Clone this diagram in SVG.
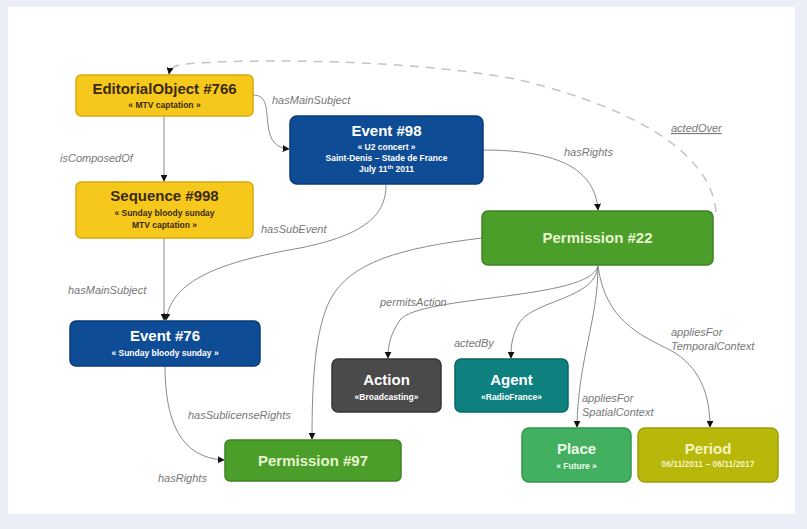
<svg xmlns="http://www.w3.org/2000/svg" width="807" height="529" viewBox="0 0 807 529">
<defs>
<marker id="arr" viewBox="0 0 10 10" refX="9" refY="5" markerWidth="7" markerHeight="7" orient="auto-start-reverse" markerUnits="userSpaceOnUse">
<path d="M0,0 L10,5 L0,10 z" fill="#111"/>
</marker>
<style>
.bg{fill:#eceef7}
.node rect{stroke-width:1.5}
.yel rect{fill:#f7c81c;stroke:#d9a90e}
.blu rect{fill:#0f4c96;stroke:#0a3a78}
.grn rect{fill:#4c9e2a;stroke:#3c8420}
.gry rect{fill:#4a4a4a;stroke:#363636}
.teal rect{fill:#0f8080;stroke:#0a6666}
.plc rect{fill:#42b060;stroke:#33954d}
.olv rect{fill:#b7b80a;stroke:#9c9d05}
text{font-family:"Liberation Sans",Arial,sans-serif;text-anchor:middle}
.t{font-size:15px;font-weight:bold}
.s{font-size:8.5px;font-weight:bold}
.yel text{fill:#3a2a12}
.blu text,.gry text,.teal text{fill:#ffffff}
.grn text{fill:#e6f5cf}
.plc text{fill:#ecfaea}
.olv text{fill:#f7f3c2}
.lab{font-size:11px;font-style:italic;fill:#777777;text-anchor:start}
.c path{fill:none;stroke:#8a8a8a;stroke-width:1}
.c .d{stroke:#c4c4c4;stroke-dasharray:9 7;stroke-width:1.5}
</style>
</defs>
<rect class="bg" x="0" y="0" width="807" height="529"/>
<rect x="8" y="7" width="787" height="507" fill="#ffffff"/>

<g id="connectors" class="c">
<path d="M164,116 L164,181" marker-end="url(#arr)"/>
<path d="M253,95 C268,95 266,110 268,125 C270,140 275,148 289,149" marker-end="url(#arr)"/>
<path d="M164,238 L164,320" marker-end="url(#arr)"/>
<path d="M386,185 C386,215 365,235 300,248 C220,262 172,280 166,320" marker-end="url(#arr)"/>
<path d="M483,150 C560,150 595,170 598,210" marker-end="url(#arr)"/>
<path d="M482,238 C400,248 350,262 330,300 C315,330 312,380 312,439" marker-end="url(#arr)"/>
<path d="M165,366 C165,420 180,458 224,460" marker-end="url(#arr)"/>
<path d="M598,266 C590,300 420,295 400,320 C390,335 388,345 388,358" marker-end="url(#arr)"/>
<path d="M598,266 C596,300 530,300 518,325 C512,337 511,345 511,358" marker-end="url(#arr)"/>
<path d="M598,266 C598,320 578,360 577,427" marker-end="url(#arr)"/>
<path d="M598,266 C605,320 640,335 670,350 C700,366 710,395 710,427" marker-end="url(#arr)"/>
<path class="d" d="M716,212 C712,160 650,112 520,80 C420,60 260,58 185,64 C175,65 170,68 169,74" marker-end="url(#arr)"/>
<text class="lab" x="60" y="162">isComposedOf</text>
<text class="lab" x="272" y="104">hasMainSubject</text>
<text class="lab" x="68" y="294">hasMainSubject</text>
<text class="lab" x="261" y="233">hasSubEvent</text>
<text class="lab" x="564" y="156">hasRights</text>
<text class="lab" x="380" y="306">permitsAction</text>
<text class="lab" x="454" y="347">actedBy</text>
<text class="lab" x="582" y="402">appliesFor</text>
<text class="lab" x="582" y="416">SpatialContext</text>
<text class="lab" x="671" y="336">appliesFor</text>
<text class="lab" x="671" y="350">TemporalContext</text>
<text class="lab" x="188" y="419">hasSublicenseRights</text>
<text class="lab" x="158" y="482">hasRights</text>
<text class="lab" x="671" y="132" text-decoration="underline">actedOver</text>
</g>

<g id="editorialObject" class="node yel">
<rect x="76" y="75" width="177" height="41" rx="5"/>
<text class="t" x="164.5" y="94">EditorialObject #766</text>
<text class="s" x="164.5" y="108">« MTV captation »</text>
</g>
<g id="sequence" class="node yel">
<rect x="76" y="182" width="177" height="56" rx="5"/>
<text class="t" x="164.5" y="201">Sequence #998</text>
<text class="s" x="164.5" y="216">« Sunday bloody sunday</text>
<text class="s" x="164.5" y="228">MTV captation »</text>
</g>
<g id="event98" class="node blu">
<rect x="290" y="116" width="193" height="68" rx="7"/>
<text class="t" x="386.5" y="136">Event #98</text>
<text class="s" x="386.5" y="150">« U2 concert »</text>
<text class="s" x="386.5" y="161">Saint-Denis – Stade de France</text>
<text class="s" x="386.5" y="172">July 11<tspan font-size="6" dy="-3">th</tspan><tspan dy="3"> 2011</tspan></text>
</g>
<g id="permission22" class="node grn">
<rect x="482" y="211" width="231" height="54" rx="6"/>
<text class="t" x="597.5" y="243">Permission #22</text>
</g>
<g id="event76" class="node blu">
<rect x="70" y="321" width="190" height="45" rx="6"/>
<text class="t" x="165" y="341">Event #76</text>
<text class="s" x="165" y="356">« Sunday bloody sunday »</text>
</g>
<g id="action" class="node gry">
<rect x="332" y="359" width="109" height="53" rx="6"/>
<text class="t" x="386.5" y="385">Action</text>
<text class="s" x="386.5" y="400">«Broadcasting»</text>
</g>
<g id="agent" class="node teal">
<rect x="455" y="359" width="113" height="53" rx="6"/>
<text class="t" x="511.5" y="385">Agent</text>
<text class="s" x="511.5" y="400">«RadioFrance»</text>
</g>
<g id="permission97" class="node grn">
<rect x="225" y="440" width="176" height="41" rx="5"/>
<text class="t" x="313" y="466">Permission #97</text>
</g>
<g id="place" class="node plc">
<rect x="522" y="428" width="109" height="54" rx="7"/>
<text class="t" x="576.5" y="454">Place</text>
<text class="s" x="576.5" y="469">« Future »</text>
</g>
<g id="period" class="node olv">
<rect x="638" y="428" width="140" height="54" rx="7"/>
<text class="t" x="708" y="454">Period</text>
<text class="s" x="708" y="467" font-weight="normal">06/11/2011 – 06/11/2017</text>
</g>
</svg>
